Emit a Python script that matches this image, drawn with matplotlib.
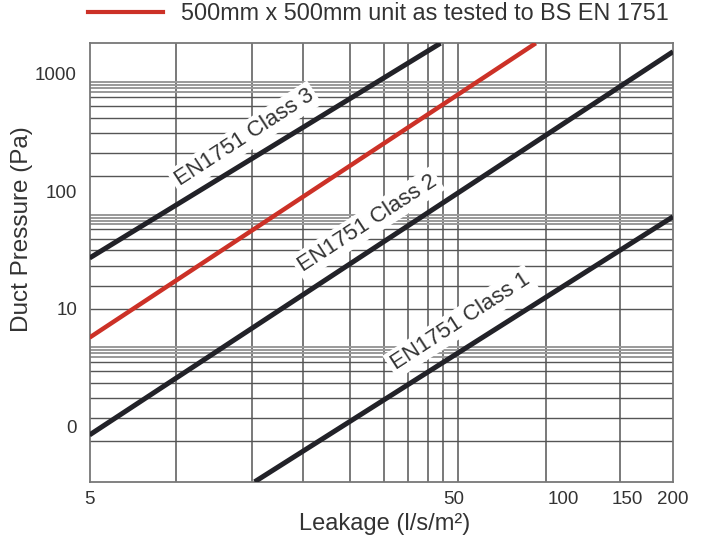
import matplotlib
matplotlib.use("Agg")
import matplotlib.pyplot as plt
from matplotlib.lines import Line2D
import numpy as np

# ── Data ──────────────────────────────────────────────────────────────────────
class3_leakage = [5, 46]
class3_pressure = [27, 1800]

tested_leakage = [5, 84]
tested_pressure = [5.7, 1800]

class2_leakage = [5, 200]
class2_pressure = [0.85, 1525]

class1_leakage = [14.2, 200]
class1_pressure = [0.34, 60.6]

x_ticks = [5, 50, 100, 150, 200]
x_ticklabels = ["5", "50", "100", "150", "200"]
y_ticks = [1, 10, 100, 1000]
y_ticklabels = ["0", "10", "100", "1000"]

legend_label = "500mm x 500mm unit as tested to BS EN 1751"
line_labels = ["EN1751 Class 3", "EN1751 Class 2", "EN1751 Class 1"]

# ── Style ─────────────────────────────────────────────────────────────────────
RED = "#cc3127"
DARK = "#222228"
GRID_DARK = "#555555"
GRID_LIGHT = "#999999"
TEXT = "#333333"

plt.rcParams.update({
    "font.family": ["Liberation Sans", "DejaVu Sans"],
})

# printed grid of the original chart (axes fractions, it is not a clean log grid)
GRID_X = [0.148, 0.278, 0.366, 0.446, 0.505, 0.546, 0.580, 0.606, 0.632, 0.782, 0.909]
GRID_Y_BASES = [0.0928, 0.3946, 0.6973]
GRID_Y_OFFSETS = [0.0, 0.0529, 0.0985, 0.1330, 0.1597, 0.1807, 0.1921, 0.2000, 0.2067, 0.2135]

fig = plt.figure(figsize=(7.1, 5.43), dpi=100)
ax = fig.add_axes([89.5 / 710, 1 - 481.7 / 543, 583.5 / 710, 438.4 / 543])
ax.set_xscale("log")
ax.set_yscale("log")
ax.set_xlim(5, 200)
ax.set_ylim(0.341, 1797)

# grid
for f in GRID_X:
    ax.add_line(Line2D([f, f], [0, 1], transform=ax.transAxes,
                       color=GRID_DARK, lw=1.1, zorder=1))
for base in GRID_Y_BASES:
    for i, off in enumerate(GRID_Y_OFFSETS):
        light = i >= 6
        ax.add_line(Line2D([0, 1], [base + off] * 2, transform=ax.transAxes,
                           color=GRID_LIGHT if light else GRID_DARK,
                           lw=1.4 if light else 1.0, zorder=1))

# lines
ax.plot(class3_leakage, class3_pressure, color=DARK, lw=3.6, zorder=3,
        solid_capstyle="butt")
ax.plot(tested_leakage, tested_pressure, color=RED, lw=3.2, zorder=3,
        solid_capstyle="butt")
ax.plot(class2_leakage, class2_pressure, color=DARK, lw=3.6, zorder=3,
        solid_capstyle="butt")
ax.plot(class1_leakage, class1_pressure, color=DARK, lw=3.6, zorder=3,
        solid_capstyle="butt")

# line labels
label_pos = [(0.265, 0.784), (0.476, 0.589), (0.636, 0.365)]
for txt, (lx, ly) in zip(line_labels, label_pos):
    ax.text(lx, ly, txt, transform=ax.transAxes, rotation=33,
            rotation_mode="anchor", ha="center", va="center",
            fontsize=16, color=TEXT, zorder=2.5,
            bbox=dict(facecolor="white", edgecolor="none", pad=2.5))

# axes cosmetics
ax.xaxis.set_major_locator(matplotlib.ticker.FixedLocator(x_ticks))
ax.xaxis.set_minor_locator(matplotlib.ticker.NullLocator())
ax.set_xticklabels(x_ticklabels)
ax.yaxis.set_major_locator(matplotlib.ticker.FixedLocator(y_ticks))
ax.yaxis.set_minor_locator(matplotlib.ticker.NullLocator())
ax.set_yticklabels(y_ticklabels)
ax.tick_params(length=0, labelsize=13.5, colors=TEXT)
ax.tick_params(axis="y", pad=9)
ax.tick_params(axis="x", pad=7)
for sp in ax.spines.values():
    sp.set_color("#777777")
    sp.set_linewidth(1.3)

fig.text(22.5 / 710, 1 - 229 / 543, "Duct Pressure (Pa)", rotation=90,
         ha="center", va="center", fontsize=17.5, color=TEXT)
fig.text(385 / 710, 1 - 524 / 543, "Leakage (l/s/m\u00b2)",
         ha="center", va="center", fontsize=17, color=TEXT)

handle = Line2D([], [], color=RED, lw=3.0)
fig.legend([handle], [legend_label], loc="center left",
           bbox_to_anchor=(88 / 710, 1 - 14 / 543), frameon=False,
           fontsize=16.8, handlelength=3.2, handletextpad=0.8,
           borderpad=0, borderaxespad=0, labelcolor=TEXT)

fig.savefig("out.png", dpi=100)
